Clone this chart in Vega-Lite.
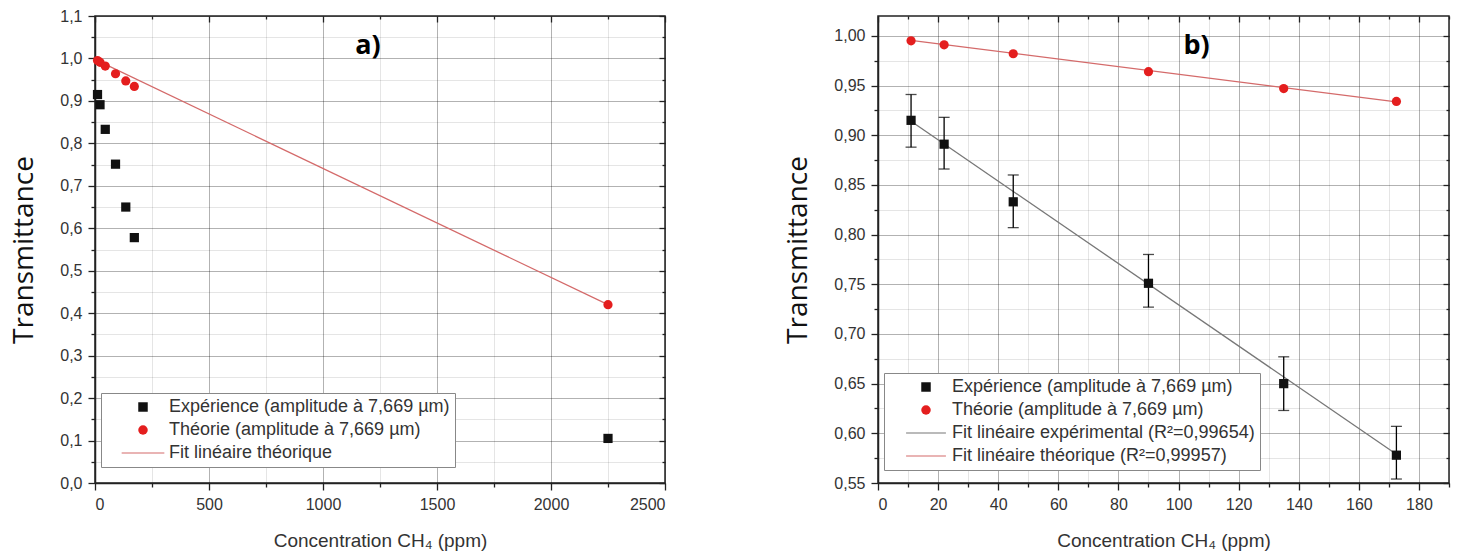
{
  "$schema": "https://vega.github.io/schema/vega-lite/v6.json",
  "padding": {"left": 10, "top": 7, "right": 5, "bottom": 5},
  "background": "white",
  "spacing": 117,
  "datasets": {
    "ptsL": [
      {"c": 11, "t": 0.915, "s": "Expérience (amplitude à 7,669 µm)"},
      {"c": 22, "t": 0.891, "s": "Expérience (amplitude à 7,669 µm)"},
      {"c": 45, "t": 0.833, "s": "Expérience (amplitude à 7,669 µm)"},
      {"c": 90, "t": 0.751, "s": "Expérience (amplitude à 7,669 µm)"},
      {"c": 135, "t": 0.65, "s": "Expérience (amplitude à 7,669 µm)"},
      {"c": 172.5, "t": 0.578, "s": "Expérience (amplitude à 7,669 µm)"},
      {"c": 2250, "t": 0.105, "s": "Expérience (amplitude à 7,669 µm)"},
      {"c": 11, "t": 0.995, "s": "Théorie (amplitude à 7,669 µm)"},
      {"c": 22, "t": 0.991, "s": "Théorie (amplitude à 7,669 µm)"},
      {"c": 45, "t": 0.982, "s": "Théorie (amplitude à 7,669 µm)"},
      {"c": 90, "t": 0.964, "s": "Théorie (amplitude à 7,669 µm)"},
      {"c": 135, "t": 0.947, "s": "Théorie (amplitude à 7,669 µm)"},
      {"c": 172.5, "t": 0.934, "s": "Théorie (amplitude à 7,669 µm)"},
      {"c": 2250, "t": 0.42, "s": "Théorie (amplitude à 7,669 µm)"}
    ],
    "fitL": [
      {"c": 11, "t": 0.995},
      {"c": 2250, "t": 0.42}
    ],
    "ptsR": [
      {"c": 11, "t": 0.915, "lo": 0.888, "hi": 0.941, "s": "Expérience (amplitude à 7,669 µm)"},
      {"c": 22, "t": 0.891, "lo": 0.866, "hi": 0.918, "s": "Expérience (amplitude à 7,669 µm)"},
      {"c": 45, "t": 0.833, "lo": 0.807, "hi": 0.86, "s": "Expérience (amplitude à 7,669 µm)"},
      {"c": 90, "t": 0.751, "lo": 0.727, "hi": 0.78, "s": "Expérience (amplitude à 7,669 µm)"},
      {"c": 135, "t": 0.65, "lo": 0.623, "hi": 0.677, "s": "Expérience (amplitude à 7,669 µm)"},
      {"c": 172.5, "t": 0.578, "lo": 0.554, "hi": 0.607, "s": "Expérience (amplitude à 7,669 µm)"},
      {"c": 11, "t": 0.995, "s": "Théorie (amplitude à 7,669 µm)"},
      {"c": 22, "t": 0.991, "s": "Théorie (amplitude à 7,669 µm)"},
      {"c": 45, "t": 0.982, "s": "Théorie (amplitude à 7,669 µm)"},
      {"c": 90, "t": 0.964, "s": "Théorie (amplitude à 7,669 µm)"},
      {"c": 135, "t": 0.947, "s": "Théorie (amplitude à 7,669 µm)"},
      {"c": 172.5, "t": 0.934, "s": "Théorie (amplitude à 7,669 µm)"}
    ],
    "fitExpR": [
      {"c": 11, "t": 0.914},
      {"c": 172.5, "t": 0.579}
    ],
    "fitTheoR": [
      {"c": 11, "t": 0.9955},
      {"c": 172.5, "t": 0.9335}
    ]
  },
  "hconcat": [
    {
      "width": 570,
      "height": 467,
      "resolve": {"axis": {"x": "independent", "y": "independent"}},
      "layer": [
        {
          "data": {"name": "fitL"},
          "mark": {"type": "line", "color": "#d46a6a", "strokeWidth": 1.3},
          "encoding": {
            "x": {
              "field": "c", "type": "quantitative",
              "scale": {"domain": [0, 2500], "nice": false, "zero": false},
              "axis": {
                "orient": "bottom",
                "title": "Concentration CH₄ (ppm)",
                "values": [0, 250, 500, 750, 1000, 1250, 1500, 1750, 2000, 2250, 2500],
                "labelExpr": "datum.value % 500 == 0 ? format(datum.value, 'd') : ''",
                "gridOpacity": {"condition": {"test": "datum.value % 500 == 0", "value": 0.3}, "value": 0.1},
                "tickSize": {"condition": {"test": "datum.value % 500 == 0", "value": 7}, "value": 4}
              }
            },
            "y": {
              "field": "t", "type": "quantitative",
              "scale": {"domain": [0, 1.1], "nice": false, "zero": false},
              "axis": {
                "orient": "left",
                "title": "Transmittance",
                "values": [0, 0.05, 0.1, 0.15, 0.2, 0.25, 0.3, 0.35, 0.4, 0.45, 0.5, 0.55, 0.6, 0.65, 0.7, 0.75, 0.8, 0.85, 0.9, 0.95, 1.0, 1.05, 1.1],
                "labelExpr": "abs(datum.value*10 - round(datum.value*10)) < 0.000001 ? replace(format(datum.value, '.1f'), '.', ',') : ''",
                "gridOpacity": {"condition": {"test": "abs(datum.value*10 - round(datum.value*10)) < 0.000001", "value": 0.3}, "value": 0.1},
                "tickSize": {"condition": {"test": "abs(datum.value*10 - round(datum.value*10)) < 0.000001", "value": 7}, "value": 4}
              }
            }
          }
        },
        {
          "data": {"name": "ptsL"},
          "mark": {"type": "point", "filled": true, "size": 85, "opacity": 1},
          "encoding": {
            "x": {"field": "c", "type": "quantitative", "axis": null},
            "y": {"field": "t", "type": "quantitative", "axis": null},
            "color": {
              "field": "s", "type": "nominal",
              "scale": {
                "domain": ["Expérience (amplitude à 7,669 µm)", "Théorie (amplitude à 7,669 µm)", "Fit linéaire théorique"],
                "range": ["#111111", "#e41e1e", "#d46a6a"]
              },
              "legend": {"title": null, "orient": "none", "legendX": 6, "legendY": 377}
            },
            "shape": {
              "field": "s", "type": "nominal",
              "scale": {
                "domain": ["Expérience (amplitude à 7,669 µm)", "Théorie (amplitude à 7,669 µm)", "Fit linéaire théorique"],
                "range": ["square", "circle", "M-4.5,-0.12H4.5V0.12H-4.5Z"]
              },
              "legend": {"title": null, "orient": "none", "legendX": 6, "legendY": 377}
            }
          }
        },
        {
          "data": {"values": [{"c": 1197, "t": 1.03, "lab": "a)"}]},
          "mark": {"type": "text", "font": "Open Sans", "fontWeight": "bold", "fontSize": 27, "color": "black"},
          "encoding": {
            "x": {
              "field": "c", "type": "quantitative",
              "axis": {
                "orient": "top", "title": null, "labels": false, "domain": false, "grid": false,
                "values": [0, 250, 500, 750, 1000, 1250, 1500, 1750, 2000, 2250, 2500],
                "tickSize": {"condition": {"test": "datum.value % 500 == 0", "value": -6}, "value": -3}
              }
            },
            "y": {
              "field": "t", "type": "quantitative",
              "axis": {
                "orient": "right", "title": null, "labels": false, "domain": false, "grid": false,
                "values": [0, 0.05, 0.1, 0.15, 0.2, 0.25, 0.3, 0.35, 0.4, 0.45, 0.5, 0.55, 0.6, 0.65, 0.7, 0.75, 0.8, 0.85, 0.9, 0.95, 1.0, 1.05, 1.1],
                "tickSize": {"condition": {"test": "abs(datum.value*10 - round(datum.value*10)) < 0.000001", "value": -6}, "value": -3}
              }
            },
            "text": {"field": "lab"}
          }
        }
      ]
    },
    {
      "width": 571,
      "height": 467,
      "resolve": {"axis": {"x": "independent", "y": "independent"}},
      "layer": [
        {
          "data": {"name": "fitTheoR"},
          "mark": {"type": "line", "color": "#d46a6a", "strokeWidth": 1.3},
          "encoding": {
            "x": {
              "field": "c", "type": "quantitative",
              "scale": {"domain": [0, 190], "nice": false, "zero": false},
              "axis": {
                "orient": "bottom",
                "title": "Concentration CH₄ (ppm)",
                "values": [0, 10, 20, 30, 40, 50, 60, 70, 80, 90, 100, 110, 120, 130, 140, 150, 160, 170, 180, 190],
                "labelExpr": "datum.value % 20 == 0 ? format(datum.value, 'd') : ''",
                "gridOpacity": {"condition": {"test": "datum.value % 20 == 0", "value": 0.3}, "value": 0.1},
                "tickSize": {"condition": {"test": "datum.value % 20 == 0", "value": 7}, "value": 4}
              }
            },
            "y": {
              "field": "t", "type": "quantitative",
              "scale": {"domain": [0.55, 1.02], "nice": false, "zero": false},
              "axis": {
                "orient": "left",
                "title": "Transmittance",
                "values": [0.55, 0.575, 0.6, 0.625, 0.65, 0.675, 0.7, 0.725, 0.75, 0.775, 0.8, 0.825, 0.85, 0.875, 0.9, 0.925, 0.95, 0.975, 1.0],
                "labelExpr": "abs(datum.value*20 - round(datum.value*20)) < 0.000001 ? replace(format(datum.value, '.2f'), '.', ',') : ''",
                "gridOpacity": {"condition": {"test": "abs(datum.value*20 - round(datum.value*20)) < 0.000001", "value": 0.3}, "value": 0.1},
                "tickSize": {"condition": {"test": "abs(datum.value*20 - round(datum.value*20)) < 0.000001", "value": 7}, "value": 4}
              }
            }
          }
        },
        {
          "data": {"name": "fitExpR"},
          "mark": {"type": "line", "color": "#777777", "strokeWidth": 1.3},
          "encoding": {
            "x": {"field": "c", "type": "quantitative", "axis": null},
            "y": {"field": "t", "type": "quantitative", "axis": null}
          }
        },
        {
          "data": {"name": "ptsR"},
          "transform": [{"filter": "isValid(datum.lo)"}],
          "mark": {"type": "errorbar", "ticks": {"size": 11, "color": "black"}, "color": "black", "thickness": 1.3},
          "encoding": {
            "x": {"field": "c", "type": "quantitative", "axis": null},
            "y": {"field": "lo", "type": "quantitative", "title": "Transmittance", "axis": null},
            "y2": {"field": "hi"}
          }
        },
        {
          "data": {"name": "ptsR"},
          "mark": {"type": "point", "filled": true, "size": 85, "opacity": 1},
          "encoding": {
            "x": {"field": "c", "type": "quantitative", "axis": null},
            "y": {"field": "t", "type": "quantitative", "axis": null},
            "color": {
              "field": "s", "type": "nominal",
              "scale": {
                "domain": ["Expérience (amplitude à 7,669 µm)", "Théorie (amplitude à 7,669 µm)", "Fit linéaire expérimental (R²=0,99654)", "Fit linéaire théorique (R²=0,99957)"],
                "range": ["#111111", "#e41e1e", "#777777", "#d46a6a"]
              },
              "legend": {"title": null, "orient": "none", "legendX": 6, "legendY": 357}
            },
            "shape": {
              "field": "s", "type": "nominal",
              "scale": {
                "domain": ["Expérience (amplitude à 7,669 µm)", "Théorie (amplitude à 7,669 µm)", "Fit linéaire expérimental (R²=0,99654)", "Fit linéaire théorique (R²=0,99957)"],
                "range": ["square", "circle", "M-4.2,-0.12H4.2V0.12H-4.2Z", "M-4.2,-0.12H4.2V0.12H-4.2Z"]
              },
              "legend": {"title": null, "orient": "none", "legendX": 6, "legendY": 357}
            }
          }
        },
        {
          "data": {"values": [{"c": 106, "t": 0.99, "lab": "b)"}]},
          "mark": {"type": "text", "font": "Open Sans", "fontWeight": "bold", "fontSize": 27, "color": "black"},
          "encoding": {
            "x": {
              "field": "c", "type": "quantitative",
              "axis": {
                "orient": "top", "title": null, "labels": false, "domain": false, "grid": false,
                "values": [0, 10, 20, 30, 40, 50, 60, 70, 80, 90, 100, 110, 120, 130, 140, 150, 160, 170, 180, 190],
                "tickSize": {"condition": {"test": "datum.value % 20 == 0", "value": -6}, "value": -3}
              }
            },
            "y": {
              "field": "t", "type": "quantitative",
              "axis": {
                "orient": "right", "title": null, "labels": false, "domain": false, "grid": false,
                "values": [0.55, 0.575, 0.6, 0.625, 0.65, 0.675, 0.7, 0.725, 0.75, 0.775, 0.8, 0.825, 0.85, 0.875, 0.9, 0.925, 0.95, 0.975, 1.0],
                "tickSize": {"condition": {"test": "abs(datum.value*20 - round(datum.value*20)) < 0.000001", "value": -6}, "value": -3}
              }
            },
            "text": {"field": "lab"}
          }
        }
      ]
    }
  ],
  "resolve": {
    "scale": {"x": "independent", "y": "independent", "color": "independent", "shape": "independent"}
  },
  "config": {
    "font": "Liberation Sans",
    "view": {"stroke": "#222222", "strokeWidth": 1.5},
    "axis": {
      "domainColor": "#222222",
      "domainWidth": 1.5,
      "tickColor": "#222222",
      "tickWidth": 1.3,
      "gridColor": "#000000",
      "gridWidth": 1,
      "labelFont": "Liberation Sans",
      "labelFontSize": 16,
      "labelColor": "#333333",
      "labelPadding": 6,
      "titleFontWeight": "normal"
    },
    "axisX": {
      "titleFont": "Liberation Sans",
      "titleFontSize": 19,
      "titleColor": "#333333",
      "titlePadding": 19
    },
    "axisY": {
      "titleFont": "Open Sans",
      "titleFontSize": 28,
      "titleColor": "#111111",
      "titlePadding": 21
    },
    "legend": {
      "strokeColor": "#888888",
      "fillColor": "white",
      "padding": 5,
      "labelFont": "Liberation Sans",
      "labelFontSize": 18,
      "labelColor": "#333333",
      "labelLimit": 500,
      "symbolSize": 90,
      "symbolOffset": 28,
      "labelOffset": 17,
      "rowPadding": 5,
      "symbolStrokeWidth": 0
    }
  }
}
